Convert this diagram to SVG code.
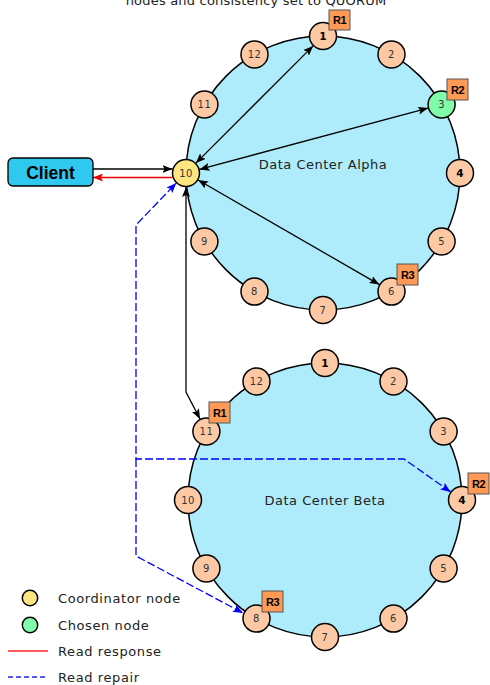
<svg xmlns="http://www.w3.org/2000/svg" width="490" height="685" viewBox="0 0 490 685">
<style>
.ring{fill:#aeecfb;stroke:#000;stroke-width:1.5}
.n{fill:#fdc9a4;stroke:#000;stroke-width:1.5}
.coord{fill:#ffe580;stroke:#000;stroke-width:1.5}
.chosen{fill:#80fcaa;stroke:#000;stroke-width:1.5}
.nl{font-family:"DejaVu Sans",sans-serif;font-size:10px;fill:#333;text-anchor:middle;letter-spacing:0.5px}
.nb{font-family:"DejaVu Sans",sans-serif;font-size:10.5px;font-weight:bold;fill:#000;text-anchor:middle}
.rb{fill:#ff9955;stroke:#555;stroke-width:1}
.rl{font-family:"Liberation Sans",Arial,sans-serif;font-size:11px;font-weight:bold;fill:#000;text-anchor:middle;letter-spacing:-0.5px}
.dc{font-family:"DejaVu Sans",sans-serif;font-size:13px;fill:#222;text-anchor:middle;letter-spacing:0.5px}
.lg{font-family:"DejaVu Sans",sans-serif;font-size:13px;fill:#222;letter-spacing:0.6px}
.blk{fill:none;stroke:#000;stroke-width:1.3}
.red{fill:none;stroke:#e00;stroke-width:1.3}
.blue{fill:none;stroke:#00f;stroke-width:1.3;stroke-dasharray:8,3}
</style>
<defs>
<marker id="ab" viewBox="0 0 10 8" refX="10" refY="4" markerWidth="10" markerHeight="8" markerUnits="userSpaceOnUse" orient="auto-start-reverse"><path d="M0,0 L10,4 L0,8 L2,4 z" fill="#000"/></marker>
<marker id="ar" viewBox="0 0 10 8" refX="10" refY="4" markerWidth="10" markerHeight="8" markerUnits="userSpaceOnUse" orient="auto-start-reverse"><path d="M0,0 L10,4 L0,8 L2,4 z" fill="#e00"/></marker>
<marker id="au" viewBox="0 0 10 8" refX="10" refY="4" markerWidth="10" markerHeight="8" markerUnits="userSpaceOnUse" orient="auto-start-reverse"><path d="M0,0 L10,4 L0,8 L2,4 z" fill="#00f"/></marker>
</defs>
<text x="256" y="4.5" font-family="DejaVu Sans,sans-serif" font-size="13" fill="#222" text-anchor="middle" letter-spacing="0.2">nodes and consistency set to QUORUM</text>

<g id="alpha-ring"><circle class="ring" cx="323" cy="173" r="137"/><text class="dc" x="323" y="169">Data Center Alpha</text></g>
<g id="beta-ring"><circle class="ring" cx="325" cy="500" r="137"/><text class="dc" x="325" y="505">Data Center Beta</text></g>

<g id="connectors">
<line class="blk" x1="93" y1="169" x2="172.5" y2="169" marker-end="url(#ab)"/>
<line class="red" x1="172.5" y1="177.5" x2="93" y2="177.5" marker-end="url(#ar)"/>
<line class="blk" x1="195.9" y1="163.1" x2="313.1" y2="45.9" marker-start="url(#ab)" marker-end="url(#ab)"/>
<line class="blk" x1="199.5" y1="169.4" x2="428.1" y2="108.1" marker-start="url(#ab)" marker-end="url(#ab)"/>
<line class="blk" x1="198.1" y1="180" x2="379.4" y2="284.6" marker-start="url(#ab)" marker-end="url(#ab)"/>
<polyline class="blk" points="186,187 186,392 200,419" marker-start="url(#ab)" marker-end="url(#ab)"/>
<polyline class="blue" points="450.6,491.9 404,459 136,459 136,225 176.3,183.1" marker-start="url(#au)" marker-end="url(#au)"/>
<polyline class="blue" points="136,459 136,556 243,613" marker-end="url(#au)"/>
</g>

<g id="client"><rect x="8" y="158" width="85" height="28" rx="5" fill="#2fc8ef" stroke="#000" stroke-width="1.3"/><text x="50.5" y="178.5" font-family="Liberation Sans,Arial,sans-serif" font-size="17.5" font-weight="bold" fill="#000" text-anchor="middle">Client</text></g>

<g id="a1"><circle class="n" cx="323" cy="36" r="13.5"/><text class="nb" x="323" y="39.5">1</text></g>
<g id="a2"><circle class="n" cx="391.5" cy="54.4" r="13.5"/><text class="nl" x="391.5" y="57.9">2</text></g>
<g id="a3"><circle class="chosen" cx="441.6" cy="104.5" r="13.5"/><text class="nl" x="441.6" y="108">3</text></g>
<g id="a4"><circle class="n" cx="460" cy="173" r="13.5"/><text class="nb" x="460" y="176.5">4</text></g>
<g id="a5"><circle class="n" cx="441.6" cy="241.5" r="13.5"/><text class="nl" x="441.6" y="245">5</text></g>
<g id="a6"><circle class="n" cx="391.5" cy="291.6" r="13.5"/><text class="nl" x="391.5" y="295.1">6</text></g>
<g id="a7"><circle class="n" cx="323" cy="310" r="13.5"/><text class="nl" x="323" y="313.5">7</text></g>
<g id="a8"><circle class="n" cx="254.5" cy="291.6" r="13.5"/><text class="nl" x="254.5" y="295.1">8</text></g>
<g id="a9"><circle class="n" cx="204.4" cy="241.5" r="13.5"/><text class="nl" x="204.4" y="245">9</text></g>
<g id="a10"><circle class="coord" cx="186" cy="173" r="13.5"/><text class="nl" x="186" y="176.5">10</text></g>
<g id="a11"><circle class="n" cx="204.4" cy="104.5" r="13.5"/><text class="nl" x="204.4" y="108">11</text></g>
<g id="a12"><circle class="n" cx="254.5" cy="54.4" r="13.5"/><text class="nl" x="254.5" y="57.9">12</text></g>
<g id="aR1"><rect class="rb" x="329" y="10" width="21" height="20"/><text class="rl" x="339.5" y="24">R1</text></g>
<g id="aR2"><rect class="rb" x="447" y="79" width="21" height="21"/><text class="rl" x="457.5" y="93.5">R2</text></g>
<g id="aR3"><rect class="rb" x="397" y="264" width="21" height="21"/><text class="rl" x="407.5" y="278.5">R3</text></g>

<g id="b1"><circle class="n" cx="325" cy="363" r="13.5"/><text class="nb" x="325" y="366.5">1</text></g>
<g id="b2"><circle class="n" cx="393.5" cy="381.4" r="13.5"/><text class="nl" x="393.5" y="384.9">2</text></g>
<g id="b3"><circle class="n" cx="443.6" cy="431.5" r="13.5"/><text class="nl" x="443.6" y="435">3</text></g>
<g id="b4"><circle class="n" cx="462" cy="500" r="13.5"/><text class="nb" x="462" y="503.5">4</text></g>
<g id="b5"><circle class="n" cx="443.6" cy="568.5" r="13.5"/><text class="nl" x="443.6" y="572">5</text></g>
<g id="b6"><circle class="n" cx="393.5" cy="618.6" r="13.5"/><text class="nl" x="393.5" y="622.1">6</text></g>
<g id="b7"><circle class="n" cx="325" cy="637" r="13.5"/><text class="nl" x="325" y="640.5">7</text></g>
<g id="b8"><circle class="n" cx="256.5" cy="618.6" r="13.5"/><text class="nl" x="256.5" y="622.1">8</text></g>
<g id="b9"><circle class="n" cx="206.4" cy="568.5" r="13.5"/><text class="nl" x="206.4" y="572">9</text></g>
<g id="b10"><circle class="n" cx="188" cy="500" r="13.5"/><text class="nl" x="188" y="503.5">10</text></g>
<g id="b11"><circle class="n" cx="206.4" cy="431.5" r="13.5"/><text class="nl" x="206.4" y="435">11</text></g>
<g id="b12"><circle class="n" cx="256.5" cy="381.4" r="13.5"/><text class="nl" x="256.5" y="384.9">12</text></g>
<g id="bR1"><rect class="rb" x="209" y="402" width="21" height="21"/><text class="rl" x="219.5" y="416.5">R1</text></g>
<g id="bR2"><rect class="rb" x="468" y="473" width="21" height="21"/><text class="rl" x="478.5" y="487.5">R2</text></g>
<g id="bR3"><rect class="rb" x="262" y="591" width="21" height="21"/><text class="rl" x="272.5" y="605.5">R3</text></g>

<g id="legend">
<circle class="coord" cx="30" cy="598" r="7.7" stroke-width="1"/>
<text class="lg" x="58" y="603">Coordinator node</text>
<circle class="chosen" cx="30" cy="625" r="7.7" stroke-width="1"/>
<text class="lg" x="58" y="630">Chosen node</text>
<line x1="8" y1="651" x2="48" y2="651" stroke="#f22" stroke-width="1.3"/>
<text class="lg" x="58" y="656">Read response</text>
<line x1="8" y1="677" x2="48" y2="677" stroke="#22f" stroke-width="1.3" stroke-dasharray="5,3"/>
<text class="lg" x="58" y="682">Read repair</text>
</g>
</svg>
